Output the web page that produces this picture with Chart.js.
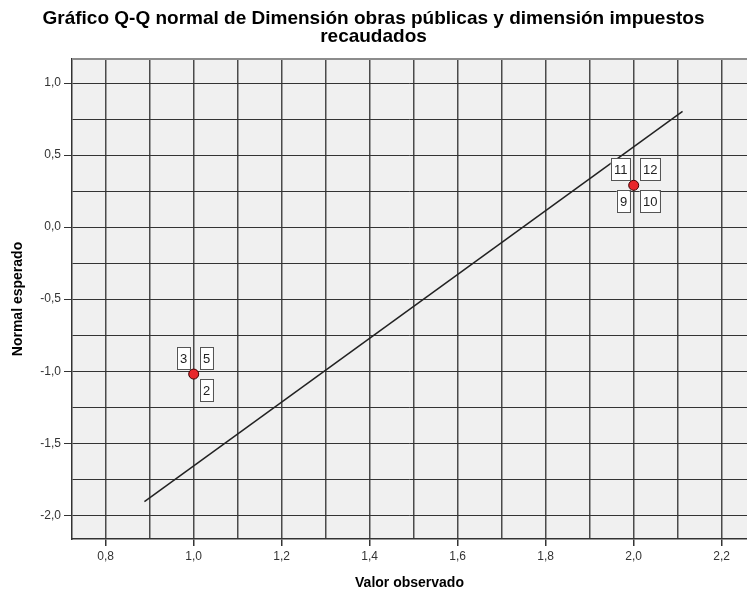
<!DOCTYPE html>
<html>
<head>
<meta charset="utf-8">
<title>Gráfico Q-Q normal</title>
<script src="https://cdn.jsdelivr.net/npm/chart.js@4/dist/chart.umd.min.js"></script>
<style>
  html, body { margin: 0; padding: 0; background: #fff; }
  #wrap { width: 747px; height: 594px; }
</style>
</head>
<body>
<div id="wrap"><canvas id="chartQQ" width="747" height="594"></canvas></div>
<script>
  // observed values and their expected normal scores
  var observed = [1.0, 2.0];
  var expected = [-1.02, 0.29];
  // case numbers shown next to each point (tl, tr, br, bl)
  var caseLabels = [["3", "5", "2"], ["11", "12", "10", "9"]];
  // reference line ends
  var lineX = [0.888, 2.111];
  var lineY = [-1.905, 0.803];
  // grid values (labels only on the major ones)
  var xTicks = [0.8, 0.9, 1.0, 1.1, 1.2, 1.3, 1.4, 1.5, 1.6, 1.7, 1.8, 1.9, 2.0, 2.1, 2.2];
  var yTicks = [-2.0, -1.75, -1.5, -1.25, -1.0, -0.75, -0.5, -0.25, 0.0, 0.25, 0.5, 0.75, 1.0];

  var titleLines = ["Gráfico Q-Q normal de Dimensión obras públicas y dimensión impuestos", "recaudados"];
  var xTitle = "Valor observado";
  var yTitle = "Normal esperado";

  var FONT = "'Liberation Sans', Arial, sans-serif";

  function fmt(v) {
    return v.toFixed(1).replace(".", ",");
  }
  function isMajorX(v) { return Math.round(v * 10) % 2 === 0; }
  function isMajorY(v) { return Math.round(v * 4) % 2 === 0; }

  var plotBackground = {
    id: "plotBackground",
    beforeDraw: function (chart) {
      var a = chart.chartArea, ctx = chart.ctx;
      ctx.save();
      ctx.fillStyle = "#f0f0f0";
      ctx.fillRect(a.left, a.top, a.right - a.left, a.bottom - a.top);
      ctx.restore();
    },
    afterDraw: function (chart) {
      var a = chart.chartArea, ctx = chart.ctx;
      ctx.save();
      ctx.strokeStyle = "#8c8c8c";
      ctx.lineWidth = 2;
      ctx.beginPath();
      ctx.moveTo(a.left, a.top);
      ctx.lineTo(a.right, a.top);
      ctx.stroke();
      ctx.restore();
    }
  };

  var caseBoxes = {
    id: "caseBoxes",
    afterDatasetsDraw: function (chart) {
      var meta = chart.getDatasetMeta(1);
      var ctx = chart.ctx;
      ctx.save();
      ctx.font = "13px " + FONT;
      ctx.textAlign = "center";
      ctx.textBaseline = "middle";
      meta.data.forEach(function (pt, i) {
        (caseLabels[i] || []).forEach(function (txt, j) {
          var w = Math.round(ctx.measureText(txt).width) + 6;
          var h = 22;
          var left = (j === 0 || j === 3) ? pt.x - 4 - w : pt.x + 6;
          var top = (j < 2) ? pt.y - 5 - h : pt.y + 5;
          ctx.fillStyle = "#ffffff";
          ctx.fillRect(left, top, w, h);
          ctx.strokeStyle = "#555555";
          ctx.lineWidth = 1;
          ctx.strokeRect(Math.round(left) + 0.5, Math.round(top) + 0.5, w, h);
          ctx.fillStyle = "#222222";
          ctx.fillText(txt, left + w / 2 + 0.5, top + h / 2 + 1);
        });
      });
      ctx.restore();
    }
  };

  var points = observed.map(function (x, i) { return { x: x, y: expected[i] }; });
  var line = lineX.map(function (x, i) { return { x: x, y: lineY[i] }; });

  new Chart(document.getElementById("chartQQ"), {
    type: "scatter",
    data: {
      datasets: [
        {
          data: line,
          showLine: true,
          borderColor: "#222222",
          borderWidth: 1.5,
          pointRadius: 0,
          fill: false
        },
        {
          data: points,
          pointRadius: 5,
          pointBackgroundColor: "#e8262a",
          pointBorderColor: "#400000",
          pointBorderWidth: 1
        }
      ]
    },
    options: {
      responsive: false,
      devicePixelRatio: 1,
      animation: false,
      layout: { padding: 0, autoPadding: false },
      plugins: {
        legend: { display: false },
        tooltip: { enabled: false },
        title: {
          display: true,
          text: titleLines,
          color: "#000",
          font: { family: FONT, size: 19, weight: "bold", lineHeight: "18px" },
          padding: { top: 10, bottom: 13 }
        }
      },
      scales: {
        x: {
          type: "linear",
          min: 0.7234,
          max: 2.2575,
          afterBuildTicks: function (scale) {
            scale.ticks = xTicks.map(function (v) { return { value: v }; });
          },
          afterFit: function (scale) {
            scale.height = 55;
            scale.paddingLeft = 0;
            scale.paddingRight = 0;
          },
          grid: {
            color: "#4a4a4a",
            lineWidth: 1.5,
            drawTicks: true,
            tickLength: 7,
            tickColor: function (c) { return c.tick && isMajorX(c.tick.value) ? "#333" : "rgba(0,0,0,0)"; }
          },
          border: { display: true, color: "#333", width: 1.5 },
          ticks: {
            color: "#333",
            padding: 3,
            maxRotation: 0,
            autoSkip: false,
            font: { family: FONT, size: 12 },
            callback: function (v) { return isMajorX(v) ? fmt(v) : ""; }
          },
          title: {
            display: true,
            text: xTitle,
            color: "#000",
            font: { family: FONT, size: 14, weight: "bold", lineHeight: 1.2 },
            padding: { top: 2, bottom: 2 }
          }
        },
        y: {
          type: "linear",
          min: -2.1646,
          max: 1.1667,
          afterBuildTicks: function (scale) {
            scale.ticks = yTicks.map(function (v) { return { value: v }; });
          },
          afterFit: function (scale) {
            scale.width = 72;
            scale.paddingTop = 0;
            scale.paddingBottom = 0;
          },
          grid: {
            color: "#333",
            lineWidth: 1,
            drawTicks: true,
            tickLength: 8,
            tickColor: function (c) { return c.tick && isMajorY(c.tick.value) ? "#333" : "rgba(0,0,0,0)"; }
          },
          border: { display: true, color: "#333", width: 1.5 },
          ticks: {
            color: "#333",
            padding: 3,
            autoSkip: false,
            font: { family: FONT, size: 12 },
            callback: function (v) { return isMajorY(v) ? fmt(v) : ""; }
          },
          title: {
            display: true,
            text: yTitle,
            color: "#000",
            font: { family: FONT, size: 14, weight: "bold", lineHeight: 1.2 },
            padding: { top: 10, bottom: 4 }
          }
        }
      }
    },
    plugins: [plotBackground, caseBoxes]
  });
</script>
</body>
</html>
